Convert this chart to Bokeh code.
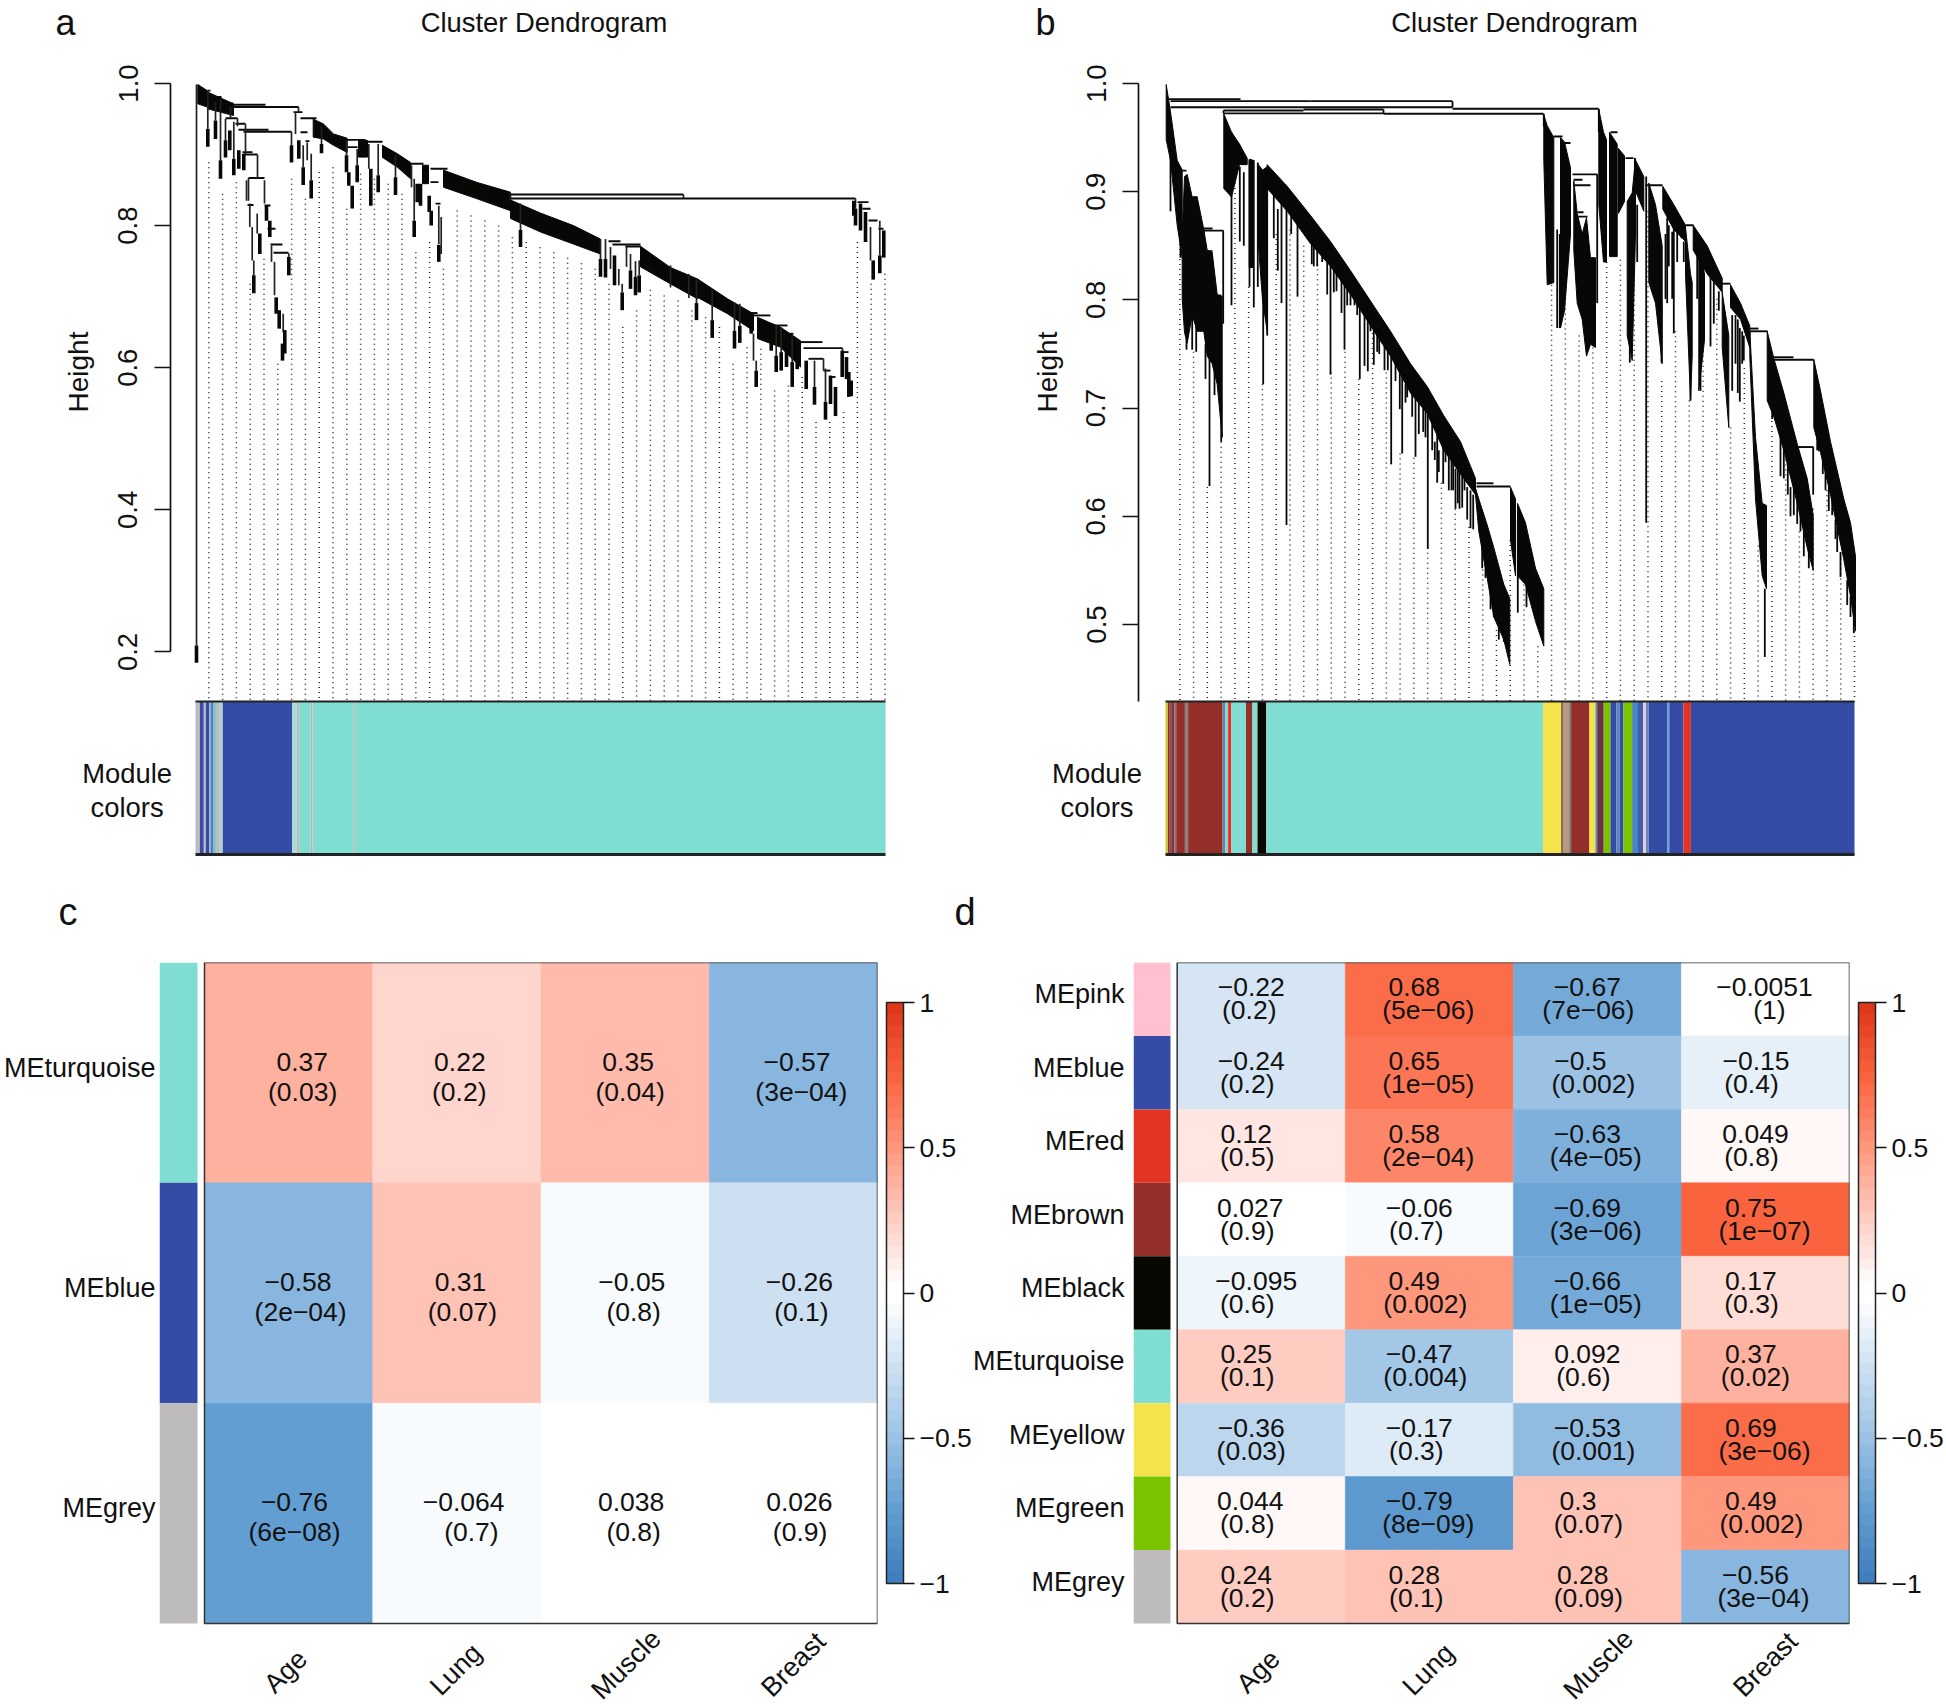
from math import pi
import numpy as np
from bokeh.embed import file_html
from bokeh.layouts import column, row
from bokeh.models import (ColorBar, ColumnDataSource, FixedTicker, Label,
                          LinearColorMapper, NumeralTickFormatter, Range1d, Title)
from bokeh.plotting import figure
from bokeh.resources import INLINE
from bokeh.transform import transform

FONT = "Liberation Sans"
# module colours
TU, BL, GY, BR, YE, GR, RE, BK, PI = ("#80DDD2", "#344CA6", "#BDBBBC", "#932E29", "#F4E34A",
                                      "#7AC300", "#E33423", "#070802", "#FFC0D0")
# ---------------------------------------------------------------- panel a data
a_guide_top = [.8893, .8448, .8612, .7181, .7533, .6056, .8659, .8377, .8753, .8823, .8237, .8729, .8659,
               .8588, .8448, .7627, .7768, .7392, .8213, .8143, .8072, .8002, .7838, .7768, .7697,
               .7627, .7547, .7472, .7392, .7181, .6572, .6806, .7097, .7017, .6947, .6806, .6712, .6572,
               .6056, .6290, .6267, .5681, .5751, .5868, .5235, .5235, .5376, .7768, .7181, .7322]
a_band_x = [[2.3, 11.7], [12, 38], [117.7, 128, 138, 151.7], [163, 172], [187, 202, 215], [227, 233],
            [248, 281, 315], [315, 345, 378, 405], [445, 475, 502], [502, 532, 558], [562, 585, 605]]
a_band_top = [[.9986, .990], [.988, .9714], [.950, .943, .929, .923], [.920, .920], [.913, .901, .889], [.885, .885],
              [.878, .861, .847], [.836, .8176, .800, .781], [.771, .741, .725], [.725, .697, .676], [.671, .657, .638]]
a_band_bot = [[.9714, .967], [.9644, .955], [.9245, .922, .913, .903], [.8964, .8964], [.896, .882, .866], [.859, .859],
              [.854, .838, .821], [.810, .791, .774, .760], [.742, .718, .697], [.699, .676, .652], [.641, .629, .601]]
a_merge_x0 = [35, 37, 30, 40, 43, 48, 47, 48, 53, 52, 69, 72, 75, 78, 98, 105, 105, 110, 152, 150, 172, 215, 235, 235,
              240, 315, 315, 413, 417, 430, 555, 558, 575, 588, 602, 608, 647, 613, 628, 635, 662, 667, 673, 683, 19, 25, 12]
a_merge_x1 = [103, 70, 42, 50, 73, 96, 57, 62, 69, 58, 75, 80, 87, 93, 107, 121, 112, 114, 162, 170, 187, 228, 252, 243,
              245, 488, 660, 425, 445, 445, 562, 575, 592, 598, 627, 647, 653, 628, 635, 640, 673, 675, 682, 688, 26, 38, 15]
a_merge_h = [.967, .970, .951, .9433, .935, .932, .9034, .900, .867, .829, .8284, .7955, .7735, .7618, .9597, .9512,
             .9315, .9189, .9104, .9207, .918, .887, .880, .8612, .831, .8438, .8382, .778, .7735, .7707, .677, .6736,
             .6595, .6478, .6361, .6276, .622, .6126, .596, .587, .833, .8237, .8072, .7955, .981, .972, .990]
a_stem_x = [1, 12.3, 20, 25, 30, 38.3, 51, 54.3, 56.7, 58.3, 61.7, 69, 76, 79, 87.7, 93.3, 96, 100, 107.7, 111.7, 115.7,
            126, 151, 161.7, 173.3, 182.7, 200, 216, 218.7, 243.3, 245.7, 325, 35, 103, 62, 53, 315, 488, 660, 647,
            628, 42, 50,
            405, 410, 415, 423.3, 426.7, 431, 435, 440, 443.7, 475, 493.3, 501, 516.7, 539, 544.3, 558, 560.7, 580.7,
            585.7, 596.7, 619, 630, 675, 684.3]
a_stem_top = [.9986, .990, .974, .978, .950, .946, .864, .831, .798, .751, .817, .864, .772, .749, .676, .761, .932, .960,
              .913, .917, .901, .941, .920, .908, .915, .915, .899, .885, .866, .828, .812, .831, .967, .967, .900, .867,
              .8448, .8438, .8382, .6276, .6126, .951, .943,
              .781, .781, .770, .739, .718, .774, .760, .750, .751, .744, .732, .725, .709, .692, .690, .648, .610, .660,
              .657, .643, .610, .599, .798, .807]
a_stem_bot = [.209, .936, .948, .892, .920, .894, .835, .798, .751, .730, .789, .831, .749, .702, .650, .756, .913, .929,
              .882, .892, .864, .915, .899, .885, .880, .871, .868, .854, .807, .774, .760, .794, .951, .960, .867, .835,
              .835, .8382, .825, .622, .596, .94, .90,
              .753, .753, .739, .716, .706, .742, .737, .728, .730, .713, .698, .691, .667, .652, .659, .610, .596, .617,
              .622, .608, .573, .552, .751, .758]
a_tip_x = [1, 12.3, 20, 25, 30, 34.3, 38.3, 43.3, 48.3, 58.3, 64.3, 71, 74.3, 80.7, 83.7, 87, 89.3, 93.3, 96, 103.3, 107.7,
           115.7, 126, 151, 153.3, 156.7, 161.7, 175.3, 182.7, 200, 218.7, 221.7, 225, 233.7, 235.7, 243.3,
           325, 405, 410, 419, 426.7, 435, 440, 443.7, 501, 516.7, 539, 544.3, 555.7, 560.7, 575.7, 580.7, 585.7, 591, 596.7,
           601.7, 610.7, 619, 630, 635, 640, 646.7, 651, 653.3, 655.7, 658.3, 660, 665, 670, 677.7, 684.3, 688.3]
a_tip_top = [.209, .936, .948, .892, .920, .934, .894, .906, .901, .730, .789, .828, .807, .699, .681, .634, .653, .756, .913,
             .920, .882, .864, .915, .899, .875, .856, .885, .880, .871, .868, .807, .859, .859, .842, .821, .773,
             .794, .753, .753, .758, .706, .737, .728, .730, .691, .667, .652, .659, .676, .596, .662, .617, .622, .624, .608,
             .624, .610, .573, .552, .589, .573, .624, .615, .594, .582, .835, .824, .831, .819, .751, .758, .793]
a_tip_bot = [.185, .911, .922, .866, .896, .906, .871, .880, .878, .705, .760, .807, .784, .676, .655, .610, .620, .730, .889,
             .894, .857, .838, .902, .875, .856, .824, .861, .828, .847, .843, .784, .833, .828, .819, .800, .749,
             .770, .728, .727, .716, .681, .711, .702, .706, .667, .642, .627, .635, .648, .573, .624, .594, .596, .601, .573,
             .598, .570, .548, .527, .549, .532, .587, .584, .559, .560, .814, .800, .793, .777, .724, .733, .755]
a_strip_edges = [0, 4.3, 8.3, 10.3, 14, 15, 17.7, 20.3, 24.3, 27.3, 96.7, 101, 103.7, 115, 117, 158.3, 160.3, 690]
a_strip_colors = [GY, BL, GY, BL, GY, "#4B7FC0", "#6FC0C8", GY, "#A9D5D0", BL, "#A8DCD8", GY, TU, "#B9B5AE", TU, GY, TU]

# ---------------------------------------------------------------- panel b data
b_guide_top = [.884, .752, .627, .669, .922, .812, .722, .861, .865, .850, .833, .733, .752, .727, .774, .733, .658,
               .654, .571, .631, .607, .590, .560, .495, .578,
               .537, .480, .814, .903, .767, .756, .835, .837, .888, .882, .725, .771, .707, .827, .801, .682, .737,
               .573, .725, .671, .586, .607, .624, .561, .494]
b_band_x = [[.7, 5, 11.7, 16.7], [16.7, 19, 21.7, 26.7, 31.7, 38.3], [38.3, 41.7, 46.7, 51.7, 56.7],
            [58.3, 66, 74, 81.7], [83.7, 88], [93, 97, 101.7],
            [101.7, 121.7, 145, 165, 185, 205, 225, 245, 261.7, 278.3, 295, 310],
            [310, 313.3, 321.7, 328.3, 338.3, 344.3], [345, 350], [352, 360, 370, 378.3], [378.3, 381.7, 388.3],
            [395, 399, 405], [408.3, 411.7, 416.7, 421, 425, 430], [433.3, 438, 441], [444, 451.7], [453, 459],
            [461.7, 466.7, 470],
            [469, 478.3], [483.3, 490, 496.7], [497.3, 508.3, 520], [520, 525, 526.7], [527.7, 541.7, 556.7],
            [533.3, 539], [556.7, 563.3], [565, 575, 584.3], [584.3, 590, 596.7, 601], [601.7, 608.3, 618.3, 631.7, 641.7, 647.7],
            [648.3, 655, 665, 678.3, 685, 690]]
b_band_top = [[.999, .974, .929, .920], [.861, .914, .916, .895, .895, .865], [.865, .846, .844, .805, .803],
              [.972, .955, .944, .931], [.930, .929], [.925, .920, .923],
              [.925, .905, .878, .854, .827, .799, .771, .741, .720, .693, .669, .635],
              [.626, .616, .592, .571, .537, .524], [.627, .616], [.612, .594, .552, .533], [.971, .961, .950],
              [.950, .946, .922], [.910, .880, .861, .876, .839, .839], [.976, .955, .948], [.955, .944], [.940, .933],
              [.891, .899, .931],
              [.931, .914], [.908, .888, .850], [.905, .888, .869], [.867, .824, .816], [.869, .850, .820],
              [.846, .824], [.807, .767], [.814, .797, .776], [.771, .673, .612, .610], [.771, .746, .714, .667, .635, .601],
              [.745, .716, .669, .616, .594, .563]]
b_band_bot = [[.948, .929, .869, .839], [.801, .770, .760, .786, .771, .771], [.771, .748, .741, .722, .673],
              [.903, .895, .925, .925], [.830, .830], [.850, .800, .771],
              [.903, .882, .852, .831, .805, .776, .748, .714, .695, .661, .639, .620],
              [.620, .586, .543, .507, .486, .463], [.578, .545], [.545, .537, .503, .480], [.929, .814, .816],
              [.774, .790, .861], [.846, .797, .782, .748, .759, .756], [.888, .835, .835], [.840, .840], [.880, .891],
              [.767, .744, .861],
              [.903, .882], [.816, .797, .741], [.884, .865, .854], [.824, .707, .748], [.846, .824, .807],
              [.716, .763], [.756, .682], [.793, .782, .756], [.748, .616, .545, .533], [.707, .692, .661, .612, .571, .550],
              [.682, .659, .620, .560, .526, .494]]
b_merge_x0 = [2, 5, 145, 5, 287, 58, 58, 138, 218, 38, 38, 40, 50, 15, 27, 311, 311, 388, 397, 407, 408, 408, 412, 412,
              445, 460, 480, 520, 555, 584, 584, 608, 608, 632]
b_merge_x1 = [75, 145, 287, 287, 433, 218, 138, 218, 378, 58, 47, 47, 56, 21, 32, 345, 328, 397, 405, 432, 417, 425, 422,
              418, 452, 468, 497, 528, 565, 602, 593, 628, 648, 648]
b_merge_h = [.9856, .9837, .9837, .978, .9766, .9724, .975, .976, .972, .864, .866, .845, .804, .9195, .895, .6275, .6305,
             .951, .945, .916, .911, .906, .877, .881, .955, .931, .906, .869, .815, .771, .7735, .747, .7447, .664]
b_spike_x = [5, 15, 21, 26.7, 30.7, 40, 44, 49, 55.7, 57.7, 66, 74.3, 78.3, 84, 88.3, 92.3, 97.7, 101.7, 108.3, 112.3, 116,
             121, 125.7, 132, 146.3, 148.3, 161.7, 165, 168.3, 176, 179, 185, 194.3, 199, 202.3, 205, 213.7, 219, 225.7,
             236.7, 240, 250, 257.7, 262.3, 266.7, 269.3, 273.3, 277.7, 280, 286, 290, 294, 299, 305, 352.3, 361, 391.7,
             394.3, 431.7, 464.3, 480.7, 496, 501.7, 508.3, 516, 525, 535, 545, 566.7, 574.3, 578.3, 599.3, 615, 625, 635,
             647.7, 653.3, 657.3, 666.7, 671.7, 688.3, 287, 218, 58, 433.3, 378.3,
             151.7, 156.7, 171, 181.7, 189, 191.7, 208.3, 211.7, 222.3, 230, 234.3, 241.7, 246.7, 253.3, 260, 271.7, 283.3,
             287.7, 292.3, 296.7, 301.7, 307.7, 316.7, 320, 325, 328.3, 333.3, 338.3,
             468.3, 471.7, 500, 503.3, 506.7, 511.7, 518.3, 531.7, 537.7, 548.3, 553.3, 570, 572.3, 576.7, 606.7, 611.7,
             618.3, 622.3, 628.3, 631.7, 638.3, 643.3, 651.7, 660, 663.3, 670, 675, 681.7, 685]
b_spike_top = [.948, .880, .801, .793, .786, .759, .748, .741, .710, .864, .955, .923, .918, .929, .929, .927, .880, .923,
               .899, .884, .908, .903, .884, .873, .857, .857, .852, .852, .831, .824, .816, .808, .793, .790, .786, .782,
               .771, .759, .752, .735, .722, .722, .707, .718, .688, .669, .661, .680, .665, .665, .644, .643, .635, .624,
               .597, .560, .865, .861, .916, .824, .914, .801, .876, .872, .867, .748, .763, .824, .786, .774, .767, .533,
               .692, .627, .616, .664, .680, .661, .624, .590, .541, .9837, .976, .975, .9766, .972,
               .846, .854, .827, .812, .805, .797, .774, .771, .756, .748, .741, .725, .722, .710, .707, .676, .669,
               .654, .643, .639, .627, .620, .578, .563, .533, .518, .499, .495,
               .884, .888, .861, .869, .863, .865, .854, .846, .835, .835, .808, .786, .782, .771, .718, .703,
               .673, .661, .635, .616, .586, .575, .684, .642, .627, .597, .567, .541, .526]
b_spike_bot = [.882, .839, .754, .754, .752, .727, .628, .712, .669, .778, .795, .854, .850, .812, .793, .812, .722, .767,
               .857, .827, .797, .592, .861, .803, .833, .831, .805, .731, .807, .788, .754, .795, .727, .739, .734, .771,
               .750, .735, .648, .658, .705, .655, .678, .570, .661, .652, .641, .630, .650, .624, .607, .607, .624, .589,
               .511, .516, .774, .774, .797, .742, .594, .742, .797, .769, .857, .707, .716, .757, .716, .706, .744, .470,
               .637, .600, .586, .620, .660, .639, .601, .567, .492, .978, .972, .9724, .955, .960,
               .831, .835, .808, .795, .795, .786, .740, .752, .735, .725, .699, .710, .692, .676, .673, .631, .624,
               .624, .612, .608, .597, .588, .552, .543, .514, .507, .486, .484,
               .854, .835, .801, .831, .801, .835, .835, .801, .778, .778, .790, .741, .714, .741, .690, .688,
               .635, .620, .601, .593, .563, .552, .661, .624, .605, .579, .544, .518, .507]
b_strip_edges = [0, 2.4, 4.3, 5.7, 8.9, 10.7, 19.4, 22.6, 57.1, 59.8, 62.6, 65.8, 80.5, 86.9, 92, 100.7, 377.6, 395.5, 398.2,
                 403.7, 405.6, 423.9, 429.9, 431.7, 438.2, 445, 451, 454.2, 457.9, 466.6, 471.7, 477.7, 480.4, 483.2,
                 501.5, 503.8, 518, 525.4, 689]
b_strip_colors = ["#C9CC2F", BR, "#6B5A77", BR, "#7C6E85", BR, "#8C7F7D", BR, "#5C86A8", "#8FD2CF", RE, TU, BR, TU, BK, TU,
                  YE, "#8E6E5C", "#B59A84", "#777777", BR, YE, "#5C8FA8", "#6B3048", GR, BL, "#5C86C0", BL, GR, "#4A86C0",
                  "#3A5FAF", PI, "#5C8FC0", BL, "#6FA5D0", BL, RE, BL]

# ---------------------------------------------------------------- heatmap data
traits = ["Age", "Lung", "Muscle", "Breast"]
c_modules = ["MEturquoise", "MEblue", "MEgrey"]
c_colors = [TU, BL, GY]
c_cor = [[.37, .22, .35, -.57], [-.58, .31, -.05, -.26], [-.76, -.064, .038, .026]]
c_val = [["0.37", "0.22", "0.35", "−0.57"], ["−0.58", "0.31", "−0.05", "−0.26"], ["−0.76", "−0.064", "0.038", "0.026"]]
c_pval = [["(0.03)", "(0.2)", "(0.04)", "(3e−04)"], ["(2e−04)", "(0.07)", "(0.8)", "(0.1)"], ["(6e−08)", "(0.7)", "(0.8)", "(0.9)"]]
d_modules = ["MEpink", "MEblue", "MEred", "MEbrown", "MEblack", "MEturquoise", "MEyellow", "MEgreen", "MEgrey"]
d_colors = [PI, BL, RE, BR, BK, TU, YE, GR, GY]
d_cor = [[-.22, .68, -.67, -.0051], [-.24, .65, -.5, -.15], [.12, .58, -.63, .049], [.027, -.06, -.69, .75],
         [-.095, .49, -.66, .17], [.25, -.47, .092, .37], [-.36, -.17, -.53, .69], [.044, -.79, .3, .49],
         [.24, .28, .28, -.56]]
d_val = [["−0.22", "0.68", "−0.67", "−0.0051"], ["−0.24", "0.65", "−0.5", "−0.15"], ["0.12", "0.58", "−0.63", "0.049"],
         ["0.027", "−0.06", "−0.69", "0.75"], ["−0.095", "0.49", "−0.66", "0.17"], ["0.25", "−0.47", "0.092", "0.37"],
         ["−0.36", "−0.17", "−0.53", "0.69"], ["0.044", "−0.79", "0.3", "0.49"], ["0.24", "0.28", "0.28", "−0.56"]]
d_pval = [["(0.2)", "(5e−06)", "(7e−06)", "(1)"], ["(0.2)", "(1e−05)", "(0.002)", "(0.4)"], ["(0.5)", "(2e−04)", "(4e−05)", "(0.8)"],
          ["(0.9)", "(0.7)", "(3e−06)", "(1e−07)"], ["(0.6)", "(0.002)", "(1e−05)", "(0.3)"], ["(0.1)", "(0.004)", "(0.6)", "(0.02)"],
          ["(0.03)", "(0.3)", "(0.001)", "(3e−06)"], ["(0.8)", "(8e−09)", "(0.07)", "(0.002)"], ["(0.2)", "(0.1)", "(0.09)", "(3e−04)"]]
cbar_ticks = [-1, -.5, 0, .5, 1]
cbar_labels = ["−1", "−0.5", "0", "0.5", "1"]
# layout nudges of the cell texts and of the rotated trait names (px)
c_val_dx = [[13.6, 3, 3, 3.6], [9.4, 3.6, 6.7, 6], [5.8, 6.7, 6, 6]]
c_p_dx = [[14, 2.4, 5, 8], [12, 5.5, 8.5, 8], [5.8, 14.5, 8.5, 6.7]]
d_val_dx = [[-10, -15, -10, -1], [-10, -15, -17, -9.5], [-15, -15, -10, -10], [-11, -10, -10, -14.6], [-5, -15, -10, -14.6],
            [-15, -10, -10, -14.6], [-10, -10, -10, -14.6], [-11, -10, -19.4, -14.6], [-15, -15, -14.6, -10]]
d_p_dx = [[-12, -1, -9, 4], [-14, -1, -4, -14], [-14, -1, -1.5, -14], [-14, -13, -1.5, -1], [-14, -4, -1.5, -14],
          [-14, -4, -14, -10], [-10, -13, -4, -1], [-14, -1, -9, -4], [-14, -13, -9, -2]]
trait_dx = [-3, -1, 1, 0]
trait_dy = [48, 46, 41, 41]

# colour map: anchors of the blue-white-red scale, 50 steps
anchor_v = [-1, -.75, -.5, -.25, -.03, .03, .25, .5, .75, 1]
anchor_rgb = [(0x3F, 0x7F, 0xBE), (0x64, 0x9F, 0xD2), (0x9D, 0xC4, 0xE5), (0xCF, 0xE2, 0xF3), (255, 255, 255),
              (255, 255, 255), (0xFF, 0xCF, 0xC6), (0xFF, 0x99, 0x80), (0xFA, 0x65, 0x40), (0xE0, 0x37, 0x1A)]
_v = np.linspace(-1, 1, 50)
palette = ["#%02X%02X%02X" % tuple(int(round(np.interp(t, anchor_v, [c[i] for c in anchor_rgb]))) for i in range(3)) for t in _v]

TOP_H = 856


def note(p, fig_left, px, py, text, size, align="center", base="middle", angle=0.0):
    p.add_layout(Label(x=px - fig_left, y=TOP_H - py, x_units="screen", y_units="screen", text=text, angle=angle,
                       text_font=FONT, text_font_size=size, text_align=align, text_baseline=base, text_color="#111111"))


def dendro(fig_left, fig_w, axis_px, strip_l, px_per_h, ticks):
    y1 = 1 + 83 / px_per_h
    y0 = 1 - (TOP_H - 83) / px_per_h
    p = figure(width=fig_w, height=TOP_H, output_backend="svg", toolbar_location=None,
               x_range=Range1d(fig_left - strip_l, fig_left + fig_w - strip_l), y_range=Range1d(y0, y1),
               x_axis_location=None, min_border=0,
               background_fill_color=None, border_fill_color=None, outline_line_color=None)
    p.grid.visible = False
    p.extra_y_ranges = {"strip": Range1d((854 - TOP_H) / 153, 854 / 153)}
    ax = p.yaxis[0]
    ax.fixed_location = axis_px - strip_l
    ax.ticker = FixedTicker(ticks=ticks)
    ax.formatter = NumeralTickFormatter(format="0.0")
    ax.bounds = (ticks[0] if len(ticks) == 5 else 1 - (701 - 83) / px_per_h, 1.0)
    ax.major_label_orientation = "vertical"
    ax.major_label_text_font = FONT
    ax.major_label_text_font_size = "27.5px"
    ax.major_label_text_color = "#111111"
    ax.major_label_standoff = 17
    ax.major_tick_out = 16
    ax.major_tick_in = 0
    ax.minor_tick_line_color = None
    ax.axis_line_width = 1.7
    ax.major_tick_line_width = 1.7
    ax.axis_line_color = "#111111"
    ax.major_tick_line_color = "#111111"
    return p


def draw_strip(p, edges, colors):
    p.quad(left=edges[:-1], right=edges[1:], bottom=0, top=1, fill_color=colors, line_color=None, y_range_name="strip")
    p.segment(x0=[edges[0], edges[0]], x1=[edges[-1], edges[-1]], y0=[1, 0], y1=[1, 0], line_color="#222222",
              line_width=[2, 3], y_range_name="strip")


def draw_bands(p, xs, tops, bots):
    p.patches(xs=[x + x[::-1] for x in xs], ys=[t + b[::-1] for t, b in zip(tops, bots)],
              fill_color="#070805", line_color="#070805", line_width=1)


# ---------------------------------------------------------------- a
pa = dendro(0, 945, 170, 195, 710.6, [.2, .4, .6, .8, 1.0])
draw_strip(pa, a_strip_edges, a_strip_colors)
a_gx = np.linspace(13.3, 689.5, 50)
a_floor = 1 - (701 - 83) / 710.6
pa.segment(x0=a_gx, x1=a_gx, y0=a_guide_top, y1=[a_floor] * 50, line_color="#222222", line_width=1.5, line_dash="1 4")
draw_bands(pa, a_band_x, a_band_top, a_band_bot)
pa.segment(x0=a_merge_x0, x1=a_merge_x1, y0=a_merge_h, y1=a_merge_h, line_color="#0a0a0a", line_width=1.9)
pa.segment(x0=a_stem_x, x1=a_stem_x, y0=a_stem_top, y1=a_stem_bot, line_color="#222222", line_width=1.7)
pa.segment(x0=a_tip_x, x1=a_tip_x, y0=a_tip_top, y1=a_tip_bot, line_color="#070805", line_width=3.6)
note(pa, 0, 543.5, 22, "Cluster Dendrogram", "27.4px")
note(pa, 0, 55, 1, "a", "36px", "left", "top")
note(pa, 0, 77.6, 371.5, "Height", "28px", angle=pi / 2)
note(pa, 0, 126.6, 773, "Module", "27.4px")
note(pa, 0, 126.6, 806.5, "colors", "27.4px")

# ---------------------------------------------------------------- b
pb = dendro(945, 1001, 1138, 1165, 1082, [.5, .6, .7, .8, .9, 1.0])
draw_strip(pb, b_strip_edges, b_strip_colors)
b_gx = np.linspace(14.3, 689, 50)
b_floor = 1 - (701 - 83) / 1082
pb.segment(x0=b_gx, x1=b_gx, y0=b_guide_top, y1=[b_floor] * 50, line_color="#222222", line_width=1.5, line_dash="1 4")
draw_bands(pb, b_band_x, b_band_top, b_band_bot)
pb.segment(x0=b_merge_x0, x1=b_merge_x1, y0=b_merge_h, y1=b_merge_h, line_color="#0a0a0a", line_width=1.9)
pb.segment(x0=b_spike_x, x1=b_spike_x, y0=b_spike_top, y1=b_spike_bot, line_color="#070805", line_width=1.8)
note(pb, 945, 1514, 22, "Cluster Dendrogram", "27.4px")
note(pb, 945, 1035, 1, "b", "36px", "left", "top")
note(pb, 945, 1047, 371.5, "Height", "28px", angle=pi / 2)
note(pb, 945, 1096.5, 773, "Module", "27.4px")
note(pb, 945, 1096.5, 806.5, "colors", "27.4px")


# ---------------------------------------------------------------- heatmaps
def heat(fig_left, fig_w, frame_l, box_l, side_r, box_r, modules, colors, cor, val, pval, val_dx, p_dx, v_off, p_off,
         letter, letter_x, margin, row_standoff):
    n = len(modules)
    top_px, bot_px = 962, 1623
    fig_top, fig_h = TOP_H, 1704 - TOP_H
    col_w = (box_r - box_l) / 4
    row_h = (bot_px - top_px) / n
    xstart = (frame_l - box_l) / col_w
    ystart = -(fig_top + fig_h - bot_px) / row_h
    mapper = LinearColorMapper(palette=palette, low=-1, high=1)
    p = figure(width=fig_w, height=fig_h, output_backend="svg", toolbar_location=None,
               x_range=Range1d(xstart, 4), y_range=Range1d(ystart, n), x_axis_location=None,
               min_border_left=frame_l - fig_left, min_border_right=fig_left + fig_w - box_r,
               min_border_top=top_px - fig_top, min_border_bottom=0,
               background_fill_color=None, border_fill_color=None, outline_line_color=None, margin=margin)
    p.grid.visible = False
    cx, cy, cv, vt, pt, vd, pd = [], [], [], [], [], [], []
    for i in range(n):
        for j in range(4):
            cx.append(j + .5)
            cy.append(n - 1 - i + .5)
            cv.append(cor[i][j])
            vt.append(val[i][j])
            pt.append(pval[i][j])
            vd.append(val_dx[i][j])
            pd.append(p_dx[i][j])
    src = ColumnDataSource(dict(x=cx, y=cy, v=cv, vt=vt, pt=pt, vd=vd, pd=pd))
    p.rect("x", "y", width=1, height=1, source=src, fill_color=transform("v", mapper),
           line_color=transform("v", mapper), line_width=.5)
    p.quad(left=[0], right=[4], bottom=[0], top=[n], fill_color=None, line_color="#333333", line_width=1.5)
    side_x1 = (side_r - box_l) / col_w
    p.quad(left=[xstart] * n, right=[side_x1] * n, bottom=[n - 1 - i for i in range(n)],
           top=[n - i for i in range(n)], fill_color=colors, line_color=None)
    for col, dx, off in (("vt", "vd", v_off), ("pt", "pd", p_off)):
        p.text("x", "y", text=col, source=src, x_offset=dx, y_offset=off, text_align="center", text_baseline="middle",
               text_font={"value": FONT}, text_font_size="26.5px", text_color="#111111")
    # rotated trait names under the box
    lab = ColumnDataSource(dict(x=[j + .5 for j in range(4)], y=[0] * 4, t=traits, dx=trait_dx, dy=trait_dy))
    p.text("x", "y", text="t", source=lab, x_offset="dx", y_offset="dy", angle=pi / 4, text_align="center",
           text_baseline="middle", text_font={"value": FONT}, text_font_size="27px", text_color="#111111")
    # left axis: module names
    ay = p.yaxis[0]
    shift = 5 / row_h
    tick_y = [n - 1 - i + .5 + shift for i in range(n)]
    ay.ticker = FixedTicker(ticks=tick_y)
    ay.major_label_overrides = dict(zip(tick_y, modules))
    ay.major_label_text_font = FONT
    ay.major_label_text_font_size = "27px"
    ay.major_label_text_color = "#111111"
    ay.major_label_standoff = row_standoff
    ay.axis_line_color = None
    ay.major_tick_line_color = None
    ay.minor_tick_line_color = None
    ay.major_tick_out = 0
    ay.major_tick_in = 0
    cb = ColorBar(color_mapper=mapper, width=17, height=581, location=(9, 702 - 581), margin=0, padding=0,
                  ticker=FixedTicker(ticks=cbar_ticks), major_label_overrides=dict(zip(cbar_ticks, cbar_labels)),
                  major_label_text_font=FONT, major_label_text_font_size="26.5px", major_label_text_color="#111111",
                  major_tick_in=0, major_tick_out=11, major_tick_line_color="#111111", major_tick_line_width=1.5,
                  minor_tick_line_color=None, bar_line_color="#222222", bar_line_width=1.5, label_standoff=5,
                  background_fill_color=None, border_line_color=None)
    p.add_layout(cb, "right")
    p.add_layout(Title(text=letter, align="left", offset=letter_x - frame_l, standoff=60, text_font=FONT,
                       text_font_size="38px", text_font_style="normal", text_color="#111111"), "above")
    return p


pc = heat(0, 975, 159, 204, 197, 877, c_modules, c_colors, c_cor, c_val, c_pval, c_val_dx, c_p_dx, -11, 19, "c", 58, 0, 4)
pd_ = heat(950, 996, 1133, 1176.7, 1170, 1849, d_modules, d_colors, d_cor, d_val, d_pval, d_val_dx, d_p_dx, -12, 11, "d", 954,
           (0, 0, 0, -25), 9)

page = column(row(pa, pb, spacing=0), row(pc, pd_, spacing=0), spacing=0)
open("out.html", "w").write(file_html(page, INLINE))
